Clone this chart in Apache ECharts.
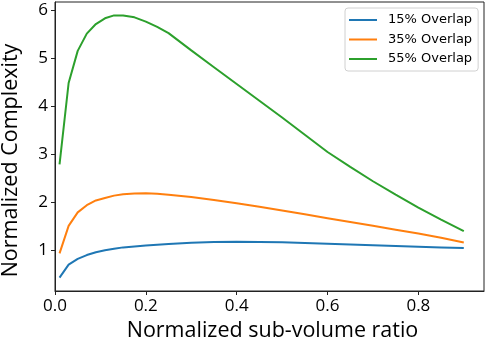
<!DOCTYPE html>
<html>
<head>
<meta charset="utf-8">
<script src="https://cdn.jsdelivr.net/npm/echarts@6/dist/echarts.min.js"></script>
<style>
html,body{margin:0;padding:0;background:#fff;}
#chart{width:488px;height:344px;}
</style>
</head>
<body>
<div id="chart"></div>
<script>
// Data
const xValues = [0.01, 0.03, 0.05, 0.07, 0.09, 0.11, 0.13, 0.15, 0.175, 0.2, 0.225, 0.25, 0.3, 0.35, 0.4, 0.45, 0.5, 0.55, 0.6, 0.65, 0.7, 0.75, 0.8, 0.85, 0.9];
const overlap15 = [0.42, 0.69, 0.81, 0.89, 0.95, 0.99, 1.02, 1.05, 1.07, 1.09, 1.105, 1.12, 1.145, 1.16, 1.165, 1.16, 1.155, 1.14, 1.125, 1.11, 1.095, 1.08, 1.065, 1.05, 1.035];
const overlap35 = [0.925, 1.50, 1.78, 1.93, 2.03, 2.08, 2.13, 2.16, 2.175, 2.18, 2.17, 2.15, 2.10, 2.04, 1.97, 1.90, 1.82, 1.74, 1.66, 1.58, 1.50, 1.42, 1.34, 1.25, 1.15];
const overlap55 = [2.78, 4.48, 5.15, 5.51, 5.71, 5.83, 5.89, 5.89, 5.85, 5.76, 5.65, 5.52, 5.16, 4.81, 4.46, 4.11, 3.76, 3.40, 3.04, 2.73, 2.43, 2.15, 1.88, 1.63, 1.39];
const seriesNames = ['15% Overlap', '35% Overlap', '55% Overlap'];
const xTicks = [0, 0.2, 0.4, 0.6, 0.8];
const yTicks = [1, 2, 3, 4, 5, 6];
const xTitle = 'Normalized sub-volume ratio';
const yTitle = 'Normalized Complexity';

const colors = ['#1f77b4', '#ff7f0e', '#2ca02c'];
const allSeries = [overlap15, overlap35, overlap55];

const chart = echarts.init(document.getElementById('chart'), null, {renderer: 'canvas'});
const tickFont = '"Open Sans", "Noto Sans", sans-serif';
const lineIcon = 'path://M0,6 L28,6 L28,8 L0,8 Z M0,0 L0.01,0 M0,14 L0.01,14';

chart.setOption({
  animation: false,
  color: colors,
  grid: {left: 55, right: 4, top: 2, bottom: 53, show: true, borderColor: '#222', borderWidth: 1,
    containLabel: false, outerBoundsMode: 'none'},
  legend: {
    data: seriesNames.map(n => ({name: n, icon: lineIcon})),
    orient: 'vertical',
    left: 345,
    top: 8,
    padding: [5, 6, 5, 4],
    itemWidth: 28,
    itemHeight: 14,
    itemGap: 5.5,
    backgroundColor: '#fff',
    borderColor: '#d0d0d0',
    borderWidth: 1,
    borderRadius: 3,
    textStyle: {fontFamily: '"DejaVu Sans"', fontSize: 13, color: '#000', padding: [0, 0, 0, 6]}
  },
  xAxis: {
    type: 'value',
    min: 0,
    max: 0.9445,
    name: xTitle,
    nameLocation: 'middle',
    nameGap: 29,
    nameTextStyle: {fontFamily: tickFont, fontSize: 21.5, color: '#000', padding: [0, 0, 0, 6]},
    splitLine: {show: false},
    axisLine: {show: true, lineStyle: {color: '#222', width: 1}},
    axisTick: {show: true, length: 4, lineStyle: {color: '#222'}, customValues: xTicks},
    axisLabel: {customValues: xTicks, fontFamily: tickFont, fontSize: 17, color: '#000', margin: 7,
      formatter: v => v.toFixed(1)}
  },
  yAxis: {
    type: 'value',
    min: 0.14,
    max: 6.17,
    name: yTitle,
    nameLocation: 'middle',
    nameGap: 33,
    nameRotate: 90,
    nameTextStyle: {fontFamily: tickFont, fontSize: 21.5, color: '#000', padding: [0, 28, 0, 0]},
    splitLine: {show: false},
    axisLine: {show: true, lineStyle: {color: '#222', width: 1}},
    axisTick: {show: true, length: 4, lineStyle: {color: '#222'}, customValues: yTicks},
    axisLabel: {customValues: yTicks, fontFamily: tickFont, fontSize: 17, color: '#000', margin: 7,
      formatter: v => String(v)}
  },
  series: allSeries.map((vals, i) => ({
    name: seriesNames[i],
    type: 'line',
    symbol: 'none',
    smooth: false,
    lineStyle: {width: 2, color: colors[i]},
    data: xValues.map((x, j) => [x, vals[j]])
  }))
});
</script>
</body>
</html>
